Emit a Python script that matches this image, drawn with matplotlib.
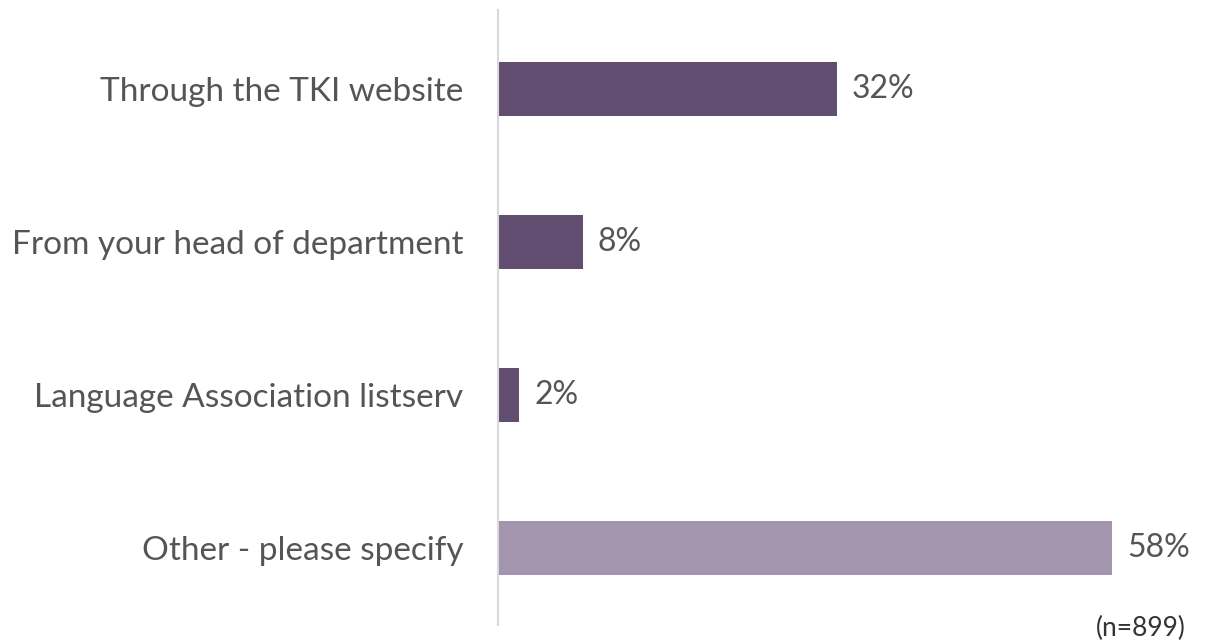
import matplotlib.pyplot as plt
import matplotlib as mpl

mpl.rcParams["font.family"] = ["Lato", "DejaVu Sans"]

categories = ["Through the TKI website", "From your head of department",
              "Language Association listserv", "Other - please specify"]
values = [32, 8, 2, 58]
colors = ["#614d70", "#614d70", "#614d70", "#a395ae"]
note = "(n=899)"

TXT = "#555555"

fig = plt.figure(figsize=(12.06, 6.42), dpi=100)
ax = fig.add_axes([498 / 1206, 1 - 625 / 642, 633 / 1206, 615 / 642])

ypos = list(range(len(categories)))
bars = ax.barh(ypos, values, height=0.355, color=colors, zorder=2)

ax.set_xlim(0, 59.8)
ax.set_ylim(3.503, -0.516)

for b, v in zip(bars, values):
    ax.annotate(f"{v}%", (b.get_width(), b.get_y() + b.get_height() / 2),
                xytext=(15, 0), textcoords="offset pixels",
                va="center", ha="left", fontsize=23, color=TXT)

ax.set_yticks(ypos)
ax.set_yticklabels(categories, fontsize=24, color=TXT)
ax.tick_params(axis="y", length=0, pad=25)
ax.set_xticks([])

for s in ["top", "right", "bottom"]:
    ax.spines[s].set_visible(False)
ax.spines["left"].set_color("#d9d9d9")
ax.spines["left"].set_linewidth(1.5)

fig.text(1186 / 1206, 1 - 628 / 642, note, ha="right", va="center",
         fontsize=19, color="#333333")

fig.savefig("out.png", dpi=100, facecolor="white")
